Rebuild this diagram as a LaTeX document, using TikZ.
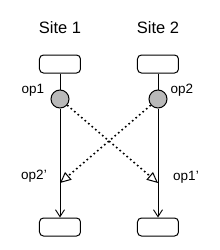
\documentclass[tikz,border=0pt]{standalone}
\usepackage{fontspec}
\setmainfont{Liberation Sans}
\usetikzlibrary{arrows.meta}
\begin{document}
\begin{tikzpicture}[x=1pt, y=-1pt, every node/.style={align=center, inner sep=0pt},
    site/.style={rectangle, draw, rounded corners=4pt, minimum width=41pt, minimum height=18pt, line width=1pt},
    opdot/.style={circle, draw, fill=gray!55, minimum size=18pt, line width=1pt},
    lbl/.style={font=\fontsize{13.5}{13.5}\selectfont}]
    \useasboundingbox (0,0) rectangle (220,250);
        \node (s1) at (60,28) [font=\fontsize{16.5}{16.5}\selectfont] {Site 1};
        \node (s2) at (158,28) [font=\fontsize{16.5}{16.5}\selectfont] {Site 2};
        \node (top1) [site] at (60,64) {};
        \node (top2) [site] at (158,64) {};
        \node (op1) [opdot] at (60,99) {};
        \node (op2) [opdot] at (158,99) {};
        \node (bot1) [site] at (60,227) {};
        \node (bot2) [site] at (158,227) {};
        \node (l1) [lbl] at (33,90) {op1};
        \node (l2) [lbl] at (182,90) {op2};
        \node (l2p) [lbl] at (34,176) {op2'};
        \node (l1p) [lbl] at (186,177) {op1'};
        \coordinate (hit1) at (60,183);
        \coordinate (hit2) at (158,183);

        \draw[line width=0.9pt] (top1) -- (op1);
        \draw[line width=0.9pt] (top2) -- (op2);
        \draw[line width=0.9pt, -{Straight Barb[length=7pt, width=9pt]}] (op1) -- (bot1);
        \draw[line width=0.9pt, -{Straight Barb[length=7pt, width=9pt]}] (op2) -- (bot2);
        \draw[line width=1.6pt, dash pattern=on 1.6pt off 3pt, -{Triangle[open, length=11pt, width=10pt, line width=1pt]}] (op1) -- (hit2);
        \draw[line width=1.6pt, dash pattern=on 1.6pt off 3pt, -{Triangle[open, length=11pt, width=10pt, line width=1pt]}] (op2) -- (hit1);
    \end{tikzpicture}
\end{document}
